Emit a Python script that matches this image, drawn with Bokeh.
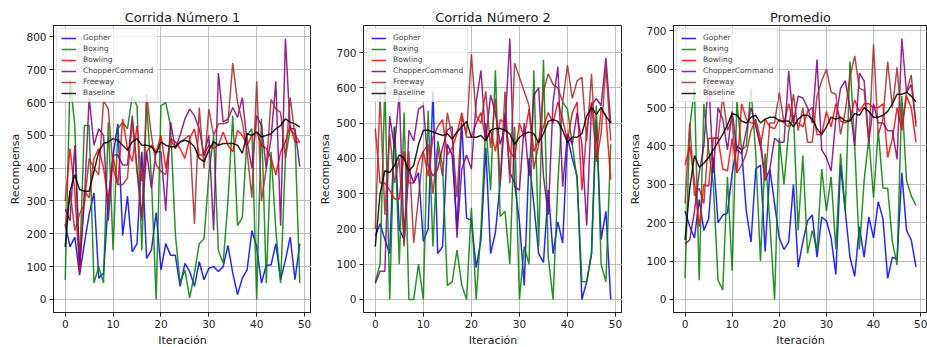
from bokeh.plotting import figure
from bokeh.layouts import row
from bokeh.models import FixedTicker, Range1d
from bokeh.embed import file_html
from bokeh.resources import INLINE

iters = list(range(50))
series_names = ["Gopher", "Boxing", "Bowling", "ChopperCommand", "Freeway", "Baseline"]
series_colors = ["#0000ff", "#008000", "#ff0000", "#800080", "#a52a2a", "#000000"]

titles = ["Corrida Número 1", "Corrida Número 2", "Promedio"]

# ---- Corrida 1 ----
r1_gopher = [230, 160, 190, 75, 170, 260, 325, 65, 80, 300, 440, 535, 195, 315, 145, 170, 450, 125, 150, 265,
             90, 170, 135, 135, 40, 110, 85, 40, 115, 60, 95, 100, 85, 100, 165, 80, 15, 65, 90, 210,
             160, 50, 105, 105, 170, 60, 120, 190, 60, 170]
r1_boxing = [60, 670, 530, 100, 530, 530, 50, 100, 50, 540, 150, 520, 540, 520, 620, 590, 150, 600, 370, 0,
             590, 600, 530, 200, 50, 90, 5, 80, 170, 185, 380, 500, 150, 110, 300, 560, 225, 250, 500, 520,
             0, 550, 50, 450, 210, 50, 430, 520, 500, 50]
r1_bowling = [300, 460, 330, 80, 330, 310, 430, 460, 400, 300, 440, 350, 550, 460, 420, 530, 360, 450, 470, 450,
              500, 400, 490, 480, 460, 430, 490, 520, 440, 440, 470, 460, 470, 510, 470, 450, 515, 500, 470, 500,
              510, 470, 460, 430, 380, 450, 480, 530, 480, 480]
r1_chopper = [275, 240, 470, 100, 300, 615, 470, 520, 500, 240, 440, 440, 410, 410, 560, 400, 250, 450, 340, 450,
              450, 270, 540, 460, 500, 550, 580, 560, 520, 440, 500, 210, 690, 540, 550, 585, 555, 615, 480, 400,
              560, 530, 400, 490, 665, 225, 795, 520, 520, 405]
r1_freeway = [220, 330, 210, 260, 290, 430, 400, 380, 605, 580, 400, 350, 350, 370, 540, 390, 240, 625, 500, 410,
              390, 380, 490, 460, 480, 490, 500, 230, 585, 400, 580, 500, 535, 535, 540, 720, 600, 540, 450, 310,
              665, 300, 400, 610, 580, 570, 430, 615, 500, 480]
r1_baseline = [160, 330, 380, 335, 330, 330, 390, 450, 475, 480, 490, 485, 470, 455, 480, 490, 470, 470, 465, 445,
               480, 470, 465, 465, 480, 485, 480, 465, 430, 420, 455, 480, 470, 475, 475, 475, 470, 445, 505, 500,
               510, 495, 500, 505, 520, 530, 550, 540, 535, 525]

# ---- Corrida 2 ----
r2_gopher = [180, 215, 170, 130, 490, 200, 170, 370, 330, 360, 165, 200, 590, 130, 150, 440, 410, 200, 500, 230,
             225, 90, 170, 430, 130, 190, 330, 530, 360, 330, 220, 40, 400, 270, 130, 105, 310, 130, 220, 160,
             460, 400, 350, 0, 50, 130, 510, 170, 250, 0]
r2_boxing = [50, 100, 610, 0, 490, 100, 530, 0, 0, 100, 0, 535, 150, 450, 380, 40, 50, 140, 40, 0,
             260, 0, 200, 500, 310, 650, 235, 250, 100, 490, 0, 150, 100, 650, 150, 680, 120, 0, 330, 560,
             540, 440, 340, 50, 50, 130, 550, 100, 50, 440]
r2_bowling = [485, 330, 330, 310, 285, 285, 420, 330, 330, 390, 420, 350, 460, 490, 510, 410, 430, 470, 530, 460,
              460, 500, 530, 450, 480, 420, 510, 500, 420, 400, 500, 460, 540, 420, 450, 490, 530, 500, 560, 510,
              450, 530, 560, 310, 480, 560, 400, 540, 520, 340]
r2_chopper = [45, 80, 80, 520, 430, 585, 160, 480, 450, 540, 550, 380, 350, 370, 430, 480, 490, 175, 370, 410,
              370, 560, 650, 450, 580, 530, 440, 490, 740, 320, 310, 500, 350, 580, 600, 350, 240, 560, 660, 320,
              470, 440, 530, 440, 210, 550, 570, 550, 685, 500]
r2_freeway = [200, 580, 240, 470, 330, 400, 150, 420, 160, 290, 420, 440, 300, 430, 350, 530, 460, 290, 520, 470,
              695, 520, 500, 590, 430, 570, 330, 590, 330, 670, 630, 590, 550, 370, 440, 590, 640, 610, 600, 560,
              665, 570, 620, 630, 450, 640, 390, 470, 660, 450]
r2_baseline = [150, 300, 365, 360, 380, 410, 400, 365, 380, 440, 480, 480, 475, 470, 465, 470, 455, 475, 490, 505,
               460, 460, 465, 450, 480, 485, 485, 480, 470, 440, 460, 470, 475, 470, 445, 470, 505, 510, 505, 480,
               445, 460, 460, 470, 520, 545, 525, 545, 520, 500]

# ---- Promedio ----
r3_gopher = [230, 190, 160, 260, 180, 210, 370, 200, 220, 225, 330, 400, 390, 230, 150, 340, 350, 125, 340, 250,
             160, 130, 150, 300, 85, 150, 205, 220, 110, 215, 205, 160, 65, 350, 230, 110, 60, 190, 110, 215,
             160, 255, 210, 55, 110, 105, 330, 180, 155, 85]
r3_boxing = [55, 450, 550, 50, 510, 390, 300, 50, 25, 320, 75, 515, 390, 400, 550, 380, 100, 380, 200, 0,
             420, 300, 440, 480, 180, 375, 120, 180, 130, 340, 230, 320, 130, 380, 230, 620, 400, 130, 310, 420,
             265, 440, 290, 290, 150, 90, 530, 310, 270, 245]
r3_bowling = [350, 400, 310, 190, 300, 295, 420, 420, 340, 335, 420, 330, 510, 470, 460, 460, 400, 470, 450, 445,
              470, 460, 510, 460, 460, 450, 490, 500, 430, 430, 490, 450, 510, 465, 460, 470, 520, 490, 510, 510,
              500, 500, 510, 370, 420, 500, 440, 530, 500, 410]
r3_chopper = [145, 155, 230, 330, 400, 580, 330, 500, 470, 390, 490, 390, 380, 440, 500, 450, 400, 310, 340, 420,
              410, 410, 595, 460, 530, 525, 500, 460, 625, 390, 370, 335, 470, 550, 570, 500, 400, 590, 570, 410,
              510, 460, 460, 440, 440, 365, 680, 540, 560, 460]
r3_freeway = [250, 460, 270, 290, 250, 420, 420, 420, 530, 440, 470, 330, 350, 380, 440, 470, 420, 310, 460, 460,
              540, 460, 450, 535, 440, 500, 410, 410, 530, 570, 600, 540, 535, 430, 490, 580, 635, 550, 545, 410,
              665, 430, 470, 620, 500, 605, 450, 540, 585, 450]
r3_baseline = [155, 290, 375, 345, 355, 370, 390, 410, 430, 455, 485, 480, 465, 460, 475, 480, 460, 470, 475, 475,
               465, 465, 465, 450, 470, 480, 480, 470, 445, 430, 450, 475, 470, 475, 465, 465, 485, 480, 500, 490,
               475, 475, 480, 490, 510, 535, 535, 540, 530, 515]

runs = [
    [r1_gopher, r1_boxing, r1_bowling, r1_chopper, r1_freeway, r1_baseline],
    [r2_gopher, r2_boxing, r2_bowling, r2_chopper, r2_freeway, r2_baseline],
    [r3_gopher, r3_boxing, r3_bowling, r3_chopper, r3_freeway, r3_baseline],
]
y_ticks = [[0, 100, 200, 300, 400, 500, 600, 700, 800],
           [0, 100, 200, 300, 400, 500, 600, 700],
           [0, 100, 200, 300, 400, 500, 600, 700]]
x_ticks = [0, 10, 20, 30, 40, 50]

FONT = "DejaVu Sans"
layout_specs = [(53, 258), (52, 259), (51, 254)]

figs = []
for k in range(3):
    left, fw = layout_specs[k]
    data = runs[k]
    allv = [v for s in data for v in s]
    lo, hi = min(allv), max(allv)
    pad = (hi - lo) * 0.05
    p = figure(frame_width=fw, frame_height=287, output_backend="svg", toolbar_location=None,
               min_border_left=left, min_border_right=0, min_border_top=25, min_border_bottom=35,
               x_range=Range1d(-2.45, 51.45), y_range=Range1d(lo - pad, hi + pad))
    p.title.text = titles[k]
    p.title.align = "center"
    p.title.text_font = FONT
    p.title.text_font_size = "13px"
    p.title.text_font_style = "normal"
    p.title.text_color = "#222222"
    p.title.standoff = 2
    for name, col, ys in zip(series_names, series_colors, data):
        p.line(iters, ys, line_color=col, line_width=1.5, line_alpha=0.85, legend_label=name)
    p.xaxis.ticker = FixedTicker(ticks=x_ticks)
    p.yaxis.ticker = FixedTicker(ticks=y_ticks[k])
    p.xaxis.axis_label = "Iteración"
    p.yaxis.axis_label = "Recompensa"
    for ax in (p.xaxis, p.yaxis):
        ax.axis_label_text_font = FONT
        ax.axis_label_text_font_size = "11px"
        ax.axis_label_text_font_style = "normal"
        ax.axis_label_text_color = "#222222"
        ax.major_label_text_font = FONT
        ax.major_label_text_font_size = "10.5px"
        ax.major_label_text_color = "#222222"
        ax.minor_tick_line_color = None
        ax.major_tick_out = 4
        ax.major_tick_in = 0
        ax.major_label_standoff = 3
        ax.axis_label_standoff = 3
        ax.axis_line_color = "#222222"
        ax.major_tick_line_color = "#222222"
    p.yaxis.axis_label_standoff = 1
    p.grid.grid_line_color = "#b0b0b0"
    p.grid.grid_line_width = 0.8
    p.outline_line_color = "#222222"
    p.outline_line_width = 1
    p.legend.location = "top_left"
    p.legend.label_text_font = FONT
    p.legend.label_text_font_size = "7.5px"
    p.legend.label_text_color = "#444444"
    p.legend.label_height = 8
    p.legend.glyph_height = 8
    p.legend.glyph_width = 15
    p.legend.spacing = 2
    p.legend.padding = 4
    p.legend.margin = 3
    p.legend.label_standoff = 7
    p.legend.border_line_color = "#cccccc"
    p.legend.background_fill_alpha = 0.8
    p.legend.border_radius = 2
    figs.append(p)

layout = row(*figs, spacing=0)
open("out.html", "w").write(file_html(layout, INLINE))
